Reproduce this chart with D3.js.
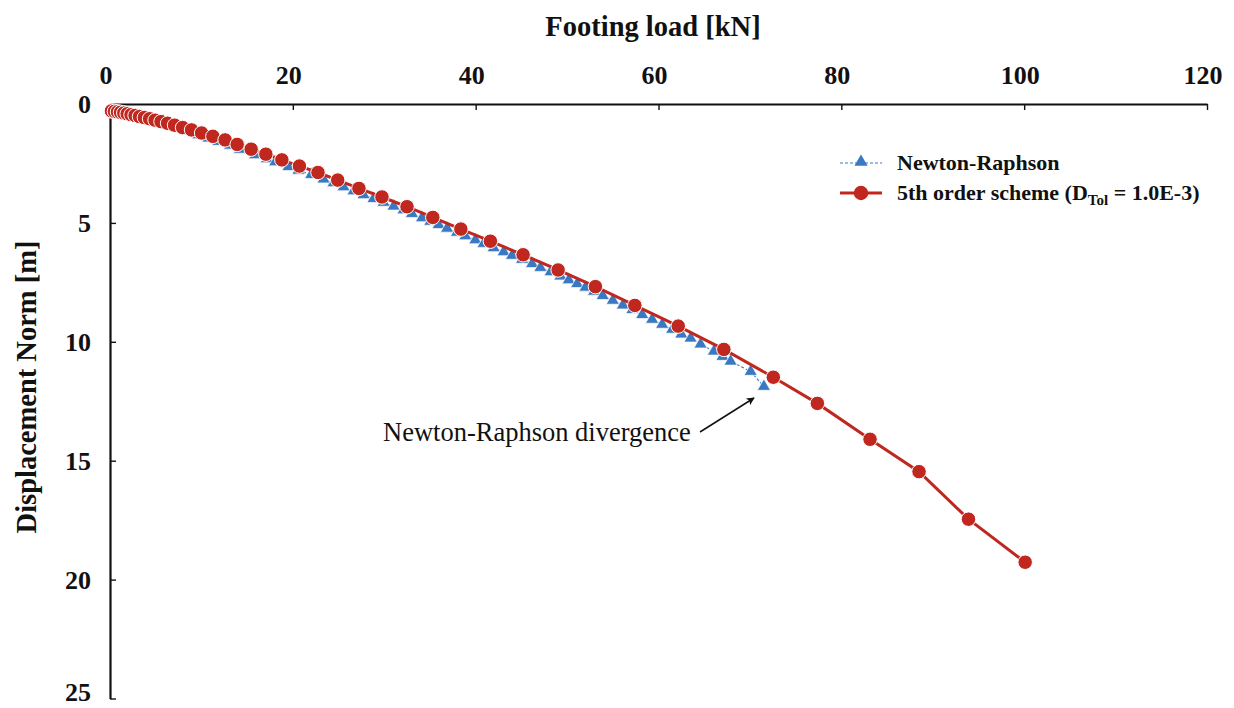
<!DOCTYPE html>
<html>
<head>
<meta charset="utf-8">
<script src="https://cdn.jsdelivr.net/npm/d3@7"></script>
<style>
  html, body { margin: 0; padding: 0; background: #fff; }
  svg { display: block; }
  text { font-family: "Liberation Serif", "Times New Roman", serif; }
</style>
</head>
<body>
<svg id="chart" width="1234" height="708"></svg>
<script>
// Footing load [kN] (x) against displacement norm [m] (y, increasing downward)

// 5th order scheme (D_Tol = 1.0E-3)
const schemeLoad = [0.16, 0.49, 0.82, 1.15, 1.51, 1.88, 2.30, 2.74, 3.23, 3.76, 4.33, 4.93,
  5.58, 6.30, 7.06, 7.94, 8.92, 10.02, 11.25, 12.59, 13.91, 15.44, 17.05, 18.80, 20.72,
  22.75, 24.91, 27.23, 29.75, 32.49, 35.31, 38.38, 41.61, 45.19, 49.02, 53.10, 57.41,
  62.16, 67.15, 72.56, 77.38, 83.14, 88.50, 93.91, 100.11];
const schemeDisp = [0.29, 0.31, 0.33, 0.35, 0.38, 0.41, 0.45, 0.48, 0.53, 0.57, 0.62, 0.68,
  0.74, 0.81, 0.89, 0.99, 1.09, 1.22, 1.36, 1.51, 1.70, 1.90, 2.11, 2.35, 2.61,
  2.88, 3.20, 3.55, 3.91, 4.32, 4.77, 5.26, 5.77, 6.34, 6.98, 7.68, 8.47,
  9.34, 10.32, 11.49, 12.59, 14.10, 15.46, 17.46, 19.27];

// Newton-Raphson
const nrLoad = [0.30, 1.10, 2.19, 3.47, 4.93, 6.02, 7.30, 8.40, 9.67, 10.76, 11.86, 13.14,
  14.23, 15.88, 17.16, 18.07, 19.52, 20.62, 22.01, 23.36, 24.45, 25.55, 26.64, 27.74,
  28.83, 29.93, 31.02, 32.11, 33.03, 34.13, 35.04, 35.95, 36.87, 37.96, 38.87, 39.96,
  40.87, 41.97, 43.06, 43.98, 45.08, 46.17, 47.08, 48.20, 49.27, 50.18, 51.10, 52.01,
  52.95, 53.90, 55.00, 56.10, 57.15, 58.22, 59.30, 60.40, 61.50, 62.50, 63.51, 64.60,
  66.06, 67.00, 67.89, 70.08, 71.53];
const nrDisp = [0.32, 0.38, 0.48, 0.60, 0.75, 0.85, 1.01, 1.14, 1.30, 1.44, 1.58, 1.74,
  1.91, 2.14, 2.31, 2.44, 2.64, 2.79, 2.97, 3.16, 3.32, 3.49, 3.66, 3.82,
  3.98, 4.14, 4.30, 4.46, 4.61, 4.79, 4.94, 5.08, 5.23, 5.40, 5.55, 5.72,
  5.87, 6.05, 6.22, 6.37, 6.54, 6.72, 6.88, 7.06, 7.24, 7.40, 7.56, 7.71,
  7.88, 8.06, 8.26, 8.46, 8.65, 8.86, 9.06, 9.27, 9.48, 9.68, 9.85, 10.10,
  10.40, 10.62, 10.82, 11.25, 11.88];

const loadTicks = [0, 20, 40, 60, 80, 100, 120];
const dispTicks = [0, 5, 10, 15, 20, 25];

const seriesNames = ["Newton-Raphson", "5th order scheme"];
const annotationText = "Newton-Raphson divergence";
const xTitle = "Footing load [kN]";
const yTitle = "Displacement Norm [m]";

const blue = "#3a79c1";
const red = "#bf271f";

const svg = d3.select("#chart");
const plotLeft = 110, plotRight = 1207, plotTop = 104, plotBottom = 698.5;

const x = d3.scaleLinear().domain([0, 120]).range([plotLeft, plotRight]);
const y = d3.scaleLinear().domain([0, 25]).range([plotTop, plotBottom]);

// Axes: load along the top, displacement down the left side, ticks pointing inward
const xAxis = svg.append("g")
  .attr("transform", `translate(0,${plotTop})`)
  .call(d3.axisBottom(x).tickValues(loadTicks).tickSize(6).tickSizeOuter(0).tickFormat(""));
const yAxis = svg.append("g")
  .attr("transform", `translate(${plotLeft},0)`)
  .call(d3.axisRight(y).tickValues(dispTicks).tickSize(6).tickSizeOuter(0).tickFormat(""));
[xAxis, yAxis].forEach(g => {
  g.select(".domain").attr("stroke", "#111").attr("stroke-width", 2.2);
  g.selectAll(".tick line").attr("stroke", "#111").attr("stroke-width", 1.4);
});

// Tick labels (the last displacement label is kept inside the page)
svg.append("g").selectAll("text").data(loadTicks).join("text")
  .attr("x", d => x(d) - 4).attr("y", 84)
  .attr("text-anchor", "middle")
  .attr("font-size", 26).attr("font-weight", "bold").attr("fill", "#111")
  .text(d => d);
svg.append("g").selectAll("text").data(dispTicks).join("text")
  .attr("x", 91).attr("y", d => Math.min(y(d) + 9, 701))
  .attr("text-anchor", "end")
  .attr("font-size", 26).attr("font-weight", "bold").attr("fill", "#111")
  .text(d => d);

// Axis titles
svg.append("text")
  .attr("x", 653).attr("y", 36)
  .attr("text-anchor", "middle")
  .attr("font-size", 28.5).attr("font-weight", "bold").attr("fill", "#111")
  .text(xTitle);
svg.append("text")
  .attr("transform", "translate(36,387) rotate(-90)")
  .attr("text-anchor", "middle")
  .attr("font-size", 28.5).attr("font-weight", "bold").attr("fill", "#111")
  .text(yTitle);

const nrData = nrLoad.map((v, i) => [v, nrDisp[i]]);
const schemeData = schemeLoad.map((v, i) => [v, schemeDisp[i]]);
const line = d3.line().x(d => x(d[0])).y(d => y(d[1]));
const tri = d3.symbol().type(d3.symbolTriangle).size(75);
const dot = d3.symbol().type(d3.symbolCircle).size(165);

// Newton-Raphson: dashed line with triangle markers
svg.append("path").datum(nrData)
  .attr("d", line).attr("fill", "none")
  .attr("stroke", blue).attr("stroke-width", 1.1).attr("stroke-dasharray", "3,2");
svg.append("g").selectAll("path").data(nrData).join("path")
  .attr("d", tri)
  .attr("transform", d => `translate(${x(d[0])},${y(d[1])})`)
  .attr("fill", blue).attr("stroke", "#fff").attr("stroke-width", 0.7);

// 5th order scheme: solid line with circle markers
svg.append("path").datum(schemeData)
  .attr("d", line).attr("fill", "none")
  .attr("stroke", red).attr("stroke-width", 3);
svg.append("g").selectAll("path").data(schemeData).join("path")
  .attr("d", dot)
  .attr("transform", d => `translate(${x(d[0])},${y(d[1])})`)
  .attr("fill", red).attr("stroke", "#fff").attr("stroke-width", 1);

// Legend
const lg = svg.append("g");
lg.append("line").attr("x1", 840).attr("x2", 882).attr("y1", 163).attr("y2", 163)
  .attr("stroke", blue).attr("stroke-width", 1.1).attr("stroke-dasharray", "3,2");
lg.append("path").attr("d", tri).attr("transform", "translate(861,162)").attr("fill", blue);
lg.append("text").attr("x", 897).attr("y", 170)
  .attr("font-size", 22).attr("font-weight", "bold").attr("fill", "#111")
  .text(seriesNames[0]);
lg.append("line").attr("x1", 840).attr("x2", 882).attr("y1", 193).attr("y2", 193)
  .attr("stroke", red).attr("stroke-width", 3);
lg.append("path").attr("d", dot).attr("transform", "translate(861,193)").attr("fill", red);
const t2 = lg.append("text").attr("x", 897).attr("y", 200)
  .attr("font-size", 22).attr("font-weight", "bold").attr("fill", "#111");
t2.append("tspan").text(seriesNames[1] + " (D");
t2.append("tspan").attr("font-size", 15).attr("dy", 5).text("Tol");
t2.append("tspan").attr("dy", -5).text(" = 1.0E-3)");

// Divergence annotation with arrow
const defs = svg.append("defs");
defs.append("marker").attr("id", "arrowhead")
  .attr("viewBox", "0 0 10 10").attr("refX", 9).attr("refY", 5)
  .attr("markerWidth", 10).attr("markerHeight", 8).attr("orient", "auto")
  .attr("markerUnits", "userSpaceOnUse")
  .append("path").attr("d", "M0,0 L10,5 L0,10 L2.5,5 Z").attr("fill", "#111");
svg.append("line")
  .attr("x1", 700).attr("y1", 432).attr("x2", 754).attr("y2", 398)
  .attr("stroke", "#111").attr("stroke-width", 1.5)
  .attr("marker-end", "url(#arrowhead)");
svg.append("text")
  .attr("x", 383).attr("y", 441)
  .attr("font-size", 26.5).attr("fill", "#111")
  .text(annotationText);
</script>
</body>
</html>
